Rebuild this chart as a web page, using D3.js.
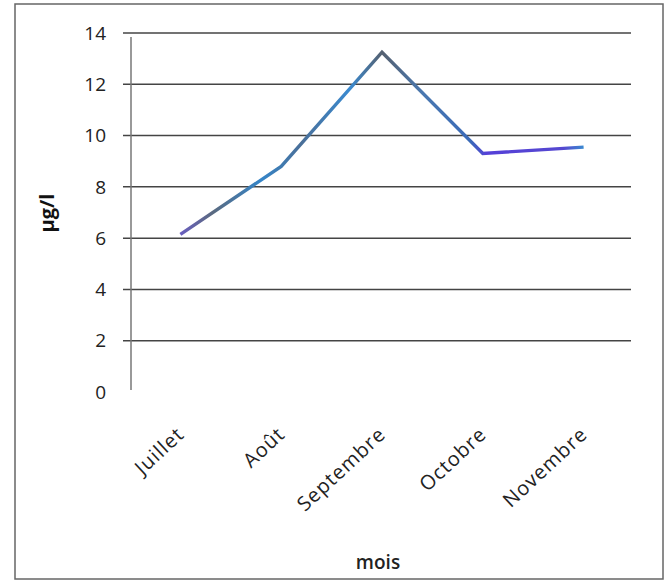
<!DOCTYPE html>
<html><head><meta charset="utf-8">
<script src="https://cdn.jsdelivr.net/npm/d3@7"></script>
<style>body{margin:0;background:#fff}svg{display:block}</style>
</head><body>
<script>
const categories = ["Juillet","Août","Septembre","Octobre","Novembre"];
const values = [6.15, 8.8, 13.25, 9.3, 9.55];
const yTicks = [0,2,4,6,8,10,12,14];

const W = 667, H = 581;
const svg = d3.select("body").append("svg").attr("width",W).attr("height",H);
const FONT = "'Open Sans', 'Liberation Sans', sans-serif";

// border
svg.append("rect").attr("x",15).attr("y",4).attr("width",648).attr("height",575)
  .attr("fill","none").attr("stroke","#666").attr("stroke-width",1.5);

const x = d3.scaleBand().domain(categories).range([130,634]);
const y = d3.scaleLinear().domain([0,14]).range([392,33]);

// gridlines
svg.append("g").selectAll("line").data(yTicks.filter(d=>d>0)).join("line")
  .attr("x1",123).attr("x2",631)
  .attr("y1",d=>y(d)).attr("y2",d=>y(d))
  .attr("stroke","#444").attr("stroke-width",1.5);

// y axis line
svg.append("line").attr("x1",131).attr("x2",131).attr("y1",37).attr("y2",390)
  .attr("stroke","#777").attr("stroke-width",1.5);

// y tick labels
svg.append("g").selectAll("text").data(yTicks).join("text")
  .attr("x",106).attr("y",d=>y(d)).attr("dy","0.35em")
  .attr("text-anchor","end")
  .attr("font-family",FONT)
  .attr("font-size",19).attr("fill","#222")
  .text(d=>d);

// x tick labels
svg.append("g").selectAll("text").data(categories).join("text")
  .attr("transform",d=>`translate(${x(d)+x.bandwidth()/2+5},436) rotate(-43)`)
  .attr("text-anchor","end")
  .attr("font-family",FONT)
  .attr("font-size",20).attr("letter-spacing",1).attr("fill","#222")
  .text(d=>d);

// axis titles
svg.append("text").attr("x",378).attr("y",569).attr("text-anchor","middle")
  .attr("font-family",FONT)
  .attr("font-size",19).attr("font-weight",600).attr("fill","#222").text("mois");
svg.append("text").attr("transform","translate(54,213) rotate(-90)")
  .attr("text-anchor","middle")
  .attr("font-family",FONT)
  .attr("font-size",20).attr("font-weight","bold").attr("fill","#111").text("µg/l");

// line gradient
const cx = d=>x(d)+x.bandwidth()/2;
const grad = svg.append("defs").append("linearGradient").attr("id","lg")
  .attr("gradientUnits","userSpaceOnUse")
  .attr("x1",cx(categories[0])).attr("x2",cx(categories[4])).attr("y1",0).attr("y2",0);
[[0,"#6a5fc0"],[0.08,"#5a6a80"],[0.2,"#3585c8"],[0.3,"#4a6f98"],[0.42,"#3a8ad0"],
 [0.5,"#556070"],[0.6,"#4a78b0"],[0.72,"#3a6ab8"],[0.76,"#5540d8"],[0.95,"#5548d0"],[1,"#3a8ad0"]]
 .forEach(([o,c])=>grad.append("stop").attr("offset",o).attr("stop-color",c));

const line = d3.line().x((d,i)=>cx(categories[i])).y(d=>y(d));
svg.append("path").datum(values).attr("d",line)
  .attr("fill","none").attr("stroke","url(#lg)").attr("stroke-width",3.4)
  .attr("stroke-linejoin","miter");
</script>
</body></html>
